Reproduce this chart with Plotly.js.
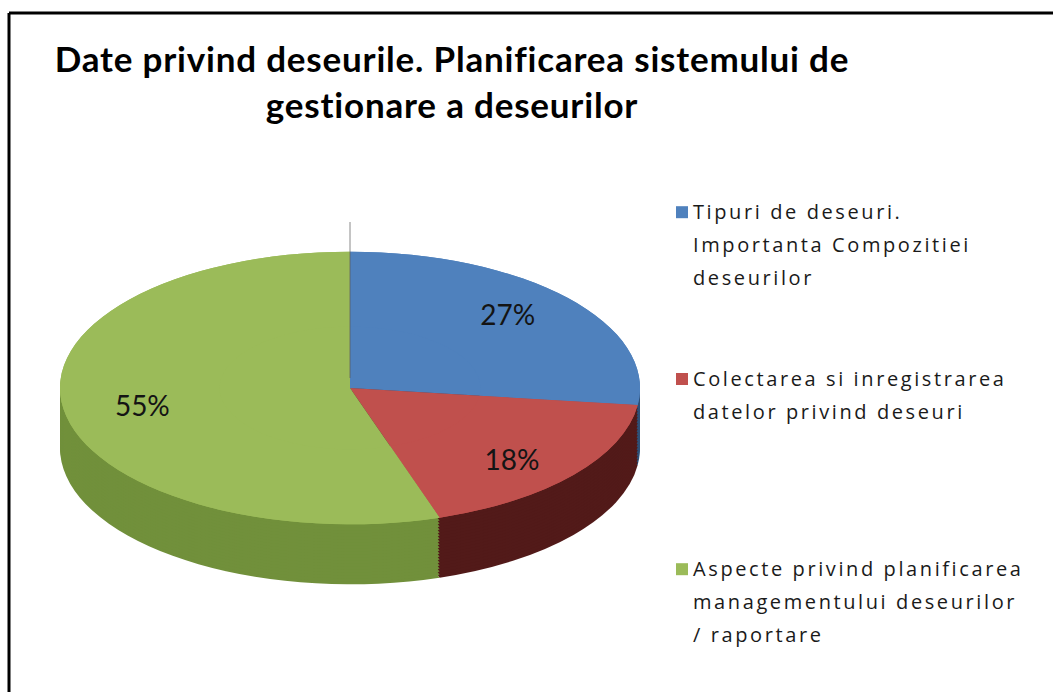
<!DOCTYPE html>
<html><head><meta charset="utf-8">
<script src="https://cdn.plot.ly/plotly-3.0.1.min.js"></script>
<style>
html,body{margin:0;padding:0;background:#fff;}
#chart{width:1053px;height:692px;}
.legendtext{letter-spacing:2.6px; font-size:20px !important;}
.gtitle{letter-spacing:0.8px;}
</style></head><body><div id="chart"></div>
<script>
// ---- data ----
const categories = [
  "Tipuri de deseuri.<br>Importanta Compozitiei<br>deseurilor",
  "Colectarea si inregistrarea<br>datelor privind deseuri",
  "Aspecte privind planificarea<br>managementului deseurilor<br>/ raportare"
];
const shares = [27, 18, 55];
const titleText = "Date privind deseurile. Planificarea sistemului de<br>gestionare a deseurilor";

// ---- styles ----
const topColors  = ['#4f81bd', '#c0504d', '#9bbb59'];
const sideColors = ['#2f5077', '#521a19', '#71903b'];
const legendPad  = [4, 6, 2];      // blank lines used as legend spacing
const tilt = 0.47;                 // vertical squash of the pie (3-D look)
const textTiltY = 0.53;            // squash applied to label positions
const textSpreadX = 1.0;
const labelHole = 0.45;            // ring used only to push labels outward
const depth = 60;                  // px thickness of the pie
const depthStep = 3;

const W = 1053, H = 692;
const pieBox = {x0: 60, x1: 640, y0: 98, y1: 678}; // px, square

const legendLabels = categories.map((c, i) => c + '<br> '.repeat(legendPad[i]));
const domain = {
  x: [pieBox.x0 / W, pieBox.x1 / W],
  y: [1 - pieBox.y1 / H, 1 - pieBox.y0 / H]
};

const data = [];
const offsets = [];
for (let d = depth; d > 0; d -= depthStep) {
  offsets.push(d);
  data.push({
    type: 'pie', labels: legendLabels, values: shares, sort: false,
    direction: 'clockwise', rotation: 0, domain: domain,
    marker: {colors: sideColors, line: {width: 0}},
    textinfo: 'none', hoverinfo: 'skip', showlegend: false
  });
}
// full top face
offsets.push(0);
data.push({
  type: 'pie', labels: legendLabels, values: shares, sort: false,
  direction: 'clockwise', rotation: 0, domain: domain,
  marker: {colors: topColors, line: {width: 0}},
  textinfo: 'none', hoverinfo: 'skip', showlegend: false
});
// ring over top face carrying the labels and legend
offsets.push(0);
data.push({
  type: 'pie', labels: legendLabels, values: shares, sort: false, hole: labelHole,
  direction: 'clockwise', rotation: 0, domain: domain,
  marker: {colors: topColors, line: {width: 0}},
  texttemplate: '%{percent:.0%}', textposition: 'inside',
  insidetextorientation: 'horizontal',
  insidetextfont: {family: 'Lato, "Open Sans", sans-serif', size: 28, color: '#141414'},
  hoverinfo: 'label+percent'
});

const layout = {
  width: W, height: H,
  margin: {l: 0, r: 0, t: 0, b: 0},
  paper_bgcolor: '#ffffff',
  showlegend: true,
  title: {
    text: titleText,
    font: {family: 'Lato, "Open Sans", sans-serif', size: 35, weight: 'bold', color: '#000'},
    xref: 'container', yref: 'container',
    x: 452 / W, xanchor: 'center', y: 1 - 72 / H, yanchor: 'top'
  },
  legend: {
    x: 653 / W, xanchor: 'left', y: 1 - 194 / H, yanchor: 'top',
    font: {family: '"Open Sans", sans-serif', size: 18, color: '#1a1a1a'},
    valign: 'top', bgcolor: 'rgba(0,0,0,0)', traceorder: 'normal'
  },
  shapes: [
    {type: 'line', xref: 'paper', yref: 'paper', x0: 9 / W, x1: 1.02, y0: 1 - 13 / H, y1: 1 - 13 / H,
     line: {color: '#000', width: 3}},
    {type: 'line', xref: 'paper', yref: 'paper', x0: 9 / W, x1: 9 / W, y0: -0.02, y1: 1 - 13 / H,
     line: {color: '#000', width: 3}},
    {type: 'line', xref: 'paper', yref: 'paper', x0: (domain.x[0] + domain.x[1]) / 2, x1: (domain.x[0] + domain.x[1]) / 2,
     y0: 1 - 378 / H, y1: 1 - 222 / H, line: {color: 'rgba(90,90,90,0.7)', width: 1}}
  ]
};

const gd = document.getElementById('chart');
Plotly.newPlot(gd, data, layout, {staticPlot: true, responsive: false}).then(() => {
  const traces = gd.querySelectorAll('.pielayer g.trace');
  traces.forEach((g, i) => {
    const cd0 = gd.calcdata[i][0];
    const cx = cd0.cx, cy = cd0.cy;
    const off = offsets[i];
    g.querySelectorAll('path.surface').forEach(p => {
      p.setAttribute('transform', `translate(0,${cy + off}) scale(1,${tilt}) translate(0,${-cy})`);
    });
    g.querySelectorAll('g.slicetext').forEach(t => {
      const bb = t.getBBox();
      const xc = bb.x + bb.width / 2;
      const yc = bb.y + bb.height / 2;
      const nx = cx + (xc - cx) * textSpreadX;
      const ny = cy + (yc - cy) * textTiltY;
      t.setAttribute('transform', `translate(${nx - xc},${ny - yc})`);
    });
  });
  // wider line spacing inside each legend entry
  gd.querySelectorAll('.legend text.legendtext').forEach(t => {
    t.querySelectorAll('tspan.line').forEach((ts, j) => {
      if (j > 0) ts.setAttribute('dy', (j * 1.64) + 'em');
    });
  });
  gd.querySelectorAll('.legend g.legendsymbols').forEach(s => {
    s.setAttribute('transform', 'translate(9,0)');
  });
});
</script></body></html>
